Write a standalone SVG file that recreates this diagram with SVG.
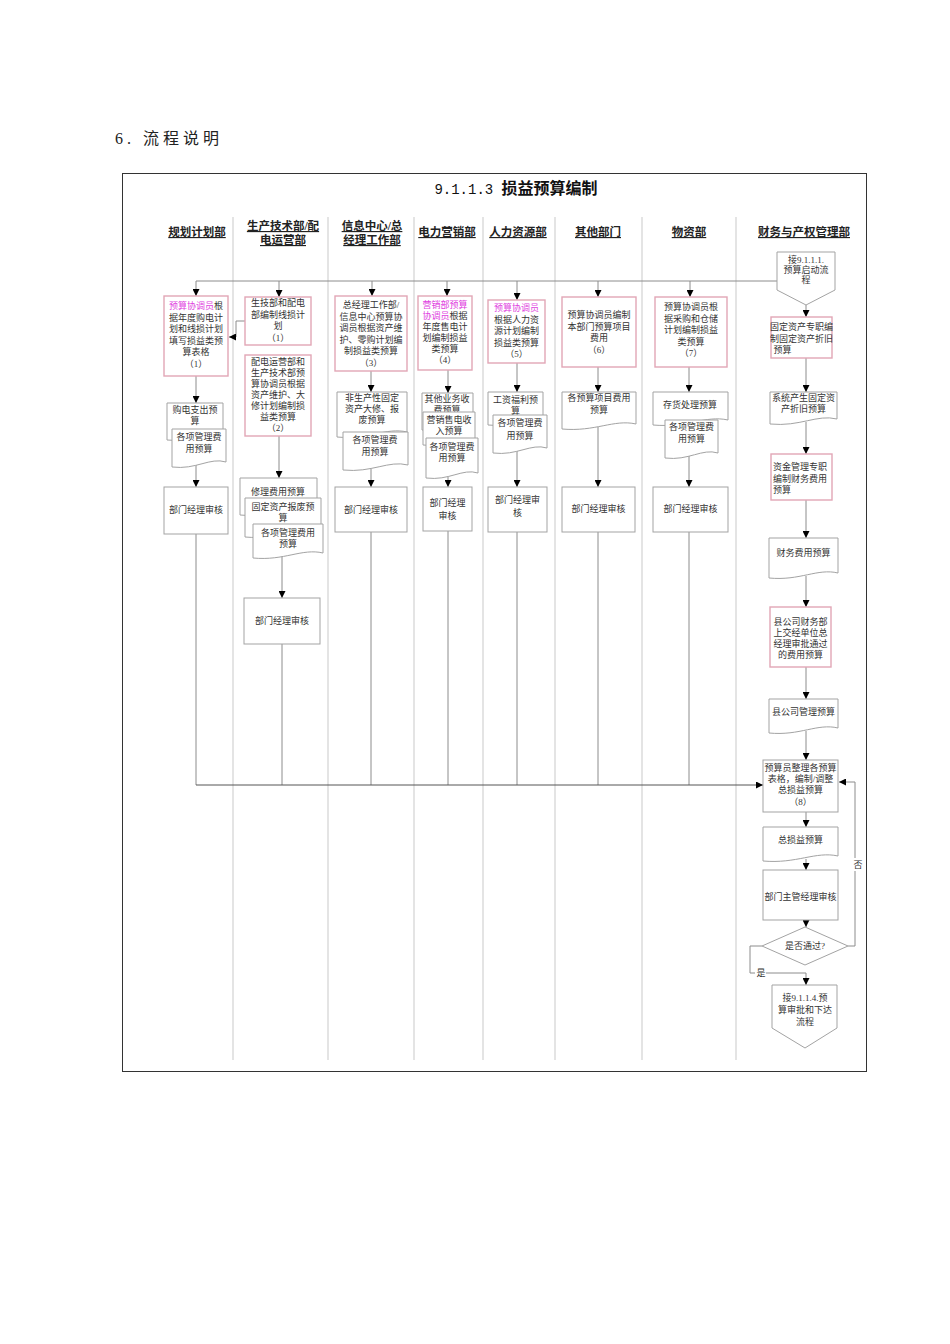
<svg xmlns="http://www.w3.org/2000/svg" width="950" height="1344" viewBox="0 0 950 1344">
<style>
.sep{stroke:#c9c9c9;stroke-width:1;fill:none}
.ln{stroke:#8c8c8c;stroke-width:1;fill:none}
.lnd{stroke:#555;stroke-width:1;fill:none}
.pk{fill:#fff;stroke:#e2a6b6;stroke-width:1.4}
.gr{fill:#fff;stroke:#a3a3a3;stroke-width:1}
.t{font-family:"Liberation Serif","Noto Sans CJK SC",serif;font-size:9px;fill:#333;text-anchor:middle}
.m{fill:#e040e0}
.h{font-family:"Liberation Serif","Noto Sans CJK SC",serif;font-size:11.5px;font-weight:bold;fill:#222;text-anchor:middle;text-decoration:underline}
</style>
<defs>
<marker id="ah" viewBox="0 0 10 10" refX="10" refY="5" markerWidth="7" markerHeight="7" orient="auto" markerUnits="userSpaceOnUse"><path d="M0,0 L10,5 L0,10 z" fill="#000"/></marker>
</defs>
<rect width="950" height="1344" fill="#fff"/>
<text x="115" y="144" font-family="Liberation Serif,Noto Sans CJK SC,serif" font-size="16" fill="#222" letter-spacing="4">6. 流程说明</text>
<rect x="122.5" y="173.5" width="744" height="898" fill="none" stroke="#333" stroke-width="1"/>
<text x="516" y="194" text-anchor="middle" fill="#111"><tspan font-family="Liberation Mono,monospace" font-size="14">9.1.1.3 </tspan><tspan font-family="Noto Sans CJK SC,sans-serif" font-size="16" font-weight="bold">损益预算编制</tspan></text>
<g id="lanes">
<line class="sep" x1="233" y1="217" x2="233" y2="1060"/>
<line class="sep" x1="328" y1="217" x2="328" y2="1060"/>
<line class="sep" x1="414" y1="217" x2="414" y2="1060"/>
<line class="sep" x1="483" y1="217" x2="483" y2="1060"/>
<line class="sep" x1="555" y1="217" x2="555" y2="1060"/>
<line class="sep" x1="642" y1="217" x2="642" y2="1060"/>
<line class="sep" x1="736" y1="217" x2="736" y2="1060"/>
<text class="h" x="197" y="236">规划计划部</text>
<text class="h" x="283" y="230">生产技术部/配</text>
<text class="h" x="283" y="244">电运营部</text>
<text class="h" x="372" y="230">信息中心/总</text>
<text class="h" x="372" y="244">经理工作部</text>
<text class="h" x="447" y="236">电力营销部</text>
<text class="h" x="518" y="236">人力资源部</text>
<text class="h" x="598" y="236">其他部门</text>
<text class="h" x="689" y="236">物资部</text>
<text class="h" x="804" y="236">财务与产权管理部</text>
</g>
<g id="connectors">
<polyline class="ln" points="777,281 196,281"/>
<line class="ln" x1="196" y1="281" x2="196" y2="296" marker-end="url(#ah)"/>
<line class="ln" x1="279" y1="281" x2="279" y2="297" marker-end="url(#ah)"/>
<line class="ln" x1="372" y1="281" x2="372" y2="296" marker-end="url(#ah)"/>
<line class="ln" x1="447" y1="281" x2="447" y2="296" marker-end="url(#ah)"/>
<line class="ln" x1="517" y1="281" x2="517" y2="300" marker-end="url(#ah)"/>
<line class="ln" x1="598" y1="281" x2="598" y2="297" marker-end="url(#ah)"/>
<line class="ln" x1="690" y1="281" x2="690" y2="297" marker-end="url(#ah)"/>
<polyline class="ln" points="245,321 236,321 236,337 229,337" marker-end="url(#ah)"/>
<line class="ln" x1="196" y1="376" x2="196" y2="403" marker-end="url(#ah)"/>
<line class="ln" x1="196" y1="465" x2="196" y2="487" marker-end="url(#ah)"/>
<polyline class="ln" points="279,436 279,478" marker-end="url(#ah)"/>
<line class="ln" x1="282" y1="556" x2="282" y2="598" marker-end="url(#ah)"/>
<line class="ln" x1="371" y1="371" x2="371" y2="392" marker-end="url(#ah)"/>
<line class="ln" x1="371" y1="468" x2="371" y2="487" marker-end="url(#ah)"/>
<line class="ln" x1="448" y1="370" x2="448" y2="393" marker-end="url(#ah)"/>
<line class="ln" x1="448" y1="476" x2="448" y2="487" marker-end="url(#ah)"/>
<line class="ln" x1="517" y1="363" x2="517" y2="392" marker-end="url(#ah)"/>
<line class="ln" x1="517" y1="451" x2="517" y2="487" marker-end="url(#ah)"/>
<line class="ln" x1="598" y1="367" x2="598" y2="392" marker-end="url(#ah)"/>
<line class="ln" x1="598" y1="427" x2="598" y2="487" marker-end="url(#ah)"/>
<line class="ln" x1="689" y1="367" x2="689" y2="392" marker-end="url(#ah)"/>
<line class="ln" x1="689" y1="456" x2="689" y2="487" marker-end="url(#ah)"/>
<line class="ln" x1="196" y1="534" x2="196" y2="785"/>
<line class="ln" x1="282" y1="644" x2="282" y2="785"/>
<line class="ln" x1="371" y1="532" x2="371" y2="785"/>
<line class="ln" x1="448" y1="531" x2="448" y2="785"/>
<line class="ln" x1="517" y1="532" x2="517" y2="785"/>
<line class="ln" x1="598" y1="532" x2="598" y2="785"/>
<line class="ln" x1="689" y1="532" x2="689" y2="785"/>
<line class="lnd" x1="196" y1="785" x2="763" y2="785" marker-end="url(#ah)"/>
<line class="ln" x1="806" y1="305" x2="806" y2="317" marker-end="url(#ah)"/>
<line class="ln" x1="806" y1="358" x2="806" y2="392" marker-end="url(#ah)"/>
<line class="ln" x1="806" y1="422" x2="806" y2="454" marker-end="url(#ah)"/>
<line class="ln" x1="806" y1="500" x2="806" y2="538" marker-end="url(#ah)"/>
<line class="ln" x1="806" y1="576" x2="806" y2="607" marker-end="url(#ah)"/>
<line class="ln" x1="806" y1="667" x2="806" y2="699" marker-end="url(#ah)"/>
<line class="ln" x1="806" y1="731" x2="806" y2="760" marker-end="url(#ah)"/>
<line class="ln" x1="806" y1="812" x2="806" y2="827" marker-end="url(#ah)"/>
<line class="ln" x1="806" y1="859" x2="806" y2="870" marker-end="url(#ah)"/>
<line class="ln" x1="806" y1="920" x2="806" y2="927" marker-end="url(#ah)"/>
<polyline class="ln" points="848,946 855,946 855,782 839,782" marker-end="url(#ah)"/>
<polyline class="ln" points="762,946 750,946 750,973 806,973 806,985" marker-end="url(#ah)"/>
<rect x="853" y="858" width="10" height="13" fill="#fff"/>
<text class="t" x="858" y="868">否</text>
<rect x="755" y="967" width="11" height="11" fill="#fff"/>
<text class="t" x="761" y="976">是</text>
</g>
<g id="n-r1">
<rect class="pk" x="164" y="296" width="64" height="80"/>
<text class="t" x="196" y="309"><tspan class="m">预算协调员</tspan>根</text>
<text class="t" x="196" y="320.5">据年度购电计</text>
<text class="t" x="196" y="332">划和线损计划</text>
<text class="t" x="196" y="343.5">填写损益类预</text>
<text class="t" x="196" y="355">算表格</text>
<text class="t" x="196" y="366.5">（1）</text>
</g>
<g id="n-d1">
<path class="gr" d="M167,403 H223 V435 C206.2,430 192.2,443 167,440 Z"/>
<text class="t" x="195" y="413">购电支出预</text>
<text class="t" x="195" y="424">算</text>
<path class="gr" d="M172,429 H226 V462 C209.8,457 196.3,470 172,467 Z"/>
<text class="t" x="199" y="440">各项管理费</text>
<text class="t" x="199" y="452">用预算</text>
</g>
<g id="n-v1">
<rect class="gr" x="164" y="487" width="64" height="47"/>
<text class="t" x="196" y="513">部门经理审核</text>
</g>
<g id="n-r2a">
<rect class="pk" x="245" y="297" width="66" height="48"/>
<text class="t" x="278" y="306">生技部和配电</text>
<text class="t" x="278" y="317.5">部编制线损计</text>
<text class="t" x="278" y="329">划</text>
<text class="t" x="278" y="340.5">（1）</text>
</g>
<g id="n-r2b">
<rect class="pk" x="245" y="355" width="66" height="81"/>
<text class="t" x="278" y="365">配电运营部和</text>
<text class="t" x="278" y="376">生产技术部预</text>
<text class="t" x="278" y="387">算协调员根据</text>
<text class="t" x="278" y="398">资产维护、大</text>
<text class="t" x="278" y="409">修计划编制损</text>
<text class="t" x="278" y="420">益类预算</text>
<text class="t" x="278" y="431">（2）</text>
</g>
<g id="n-d2">
<path class="gr" d="M240,478 H317 V510 C293.9,505 274.65,518 240,515 Z"/>
<text class="t" x="278" y="495">修理费用预算</text>
<path class="gr" d="M245,498 H321 V532 C298.2,527 279.2,540 245,537 Z"/>
<text class="t" x="283" y="510">固定资产报废预</text>
<text class="t" x="283" y="521">算</text>
<path class="gr" d="M253,524 H323 V553 C302,548 284.5,561 253,558 Z"/>
<text class="t" x="288" y="536">各项管理费用</text>
<text class="t" x="288" y="547">预算</text>
</g>
<g id="n-v2">
<rect class="gr" x="244" y="598" width="76" height="46"/>
<text class="t" x="282" y="624">部门经理审核</text>
</g>
<g id="n-r3">
<rect class="pk" x="335" y="296" width="72" height="75"/>
<text class="t" x="371" y="308">总经理工作部/</text>
<text class="t" x="371" y="319.5">信息中心预算协</text>
<text class="t" x="371" y="331">调员根据资产维</text>
<text class="t" x="371" y="342.5">护、零购计划编</text>
<text class="t" x="371" y="354">制损益类预算</text>
<text class="t" x="371" y="365.5">（3）</text>
</g>
<g id="n-d3">
<path class="gr" d="M337,392 H407 V432 C386,427 368.5,440 337,437 Z"/>
<text class="t" x="372" y="401">非生产性固定</text>
<text class="t" x="372" y="412">资产大修、报</text>
<text class="t" x="372" y="423">废预算</text>
<path class="gr" d="M343,432 H408 V465 C388.5,460 372.25,473 343,470 Z"/>
<text class="t" x="375" y="443">各项管理费</text>
<text class="t" x="375" y="455">用预算</text>
</g>
<g id="n-v3">
<rect class="gr" x="335" y="487" width="72" height="45"/>
<text class="t" x="371" y="513">部门经理审核</text>
</g>
<g id="n-r4">
<rect class="pk" x="418" y="296" width="54" height="74"/>
<text class="t" x="445" y="308"><tspan class="m">营销部预算</tspan></text>
<text class="t" x="445" y="319"><tspan class="m">协调员</tspan>根据</text>
<text class="t" x="445" y="330">年度售电计</text>
<text class="t" x="445" y="341">划编制损益</text>
<text class="t" x="445" y="352">类预算</text>
<text class="t" x="445" y="363">（4）</text>
</g>
<g id="n-d4">
<path class="gr" d="M422,393 H473 V425 C457.7,420 444.95,433 422,430 Z"/>
<text class="t" x="447" y="402">其他业务收</text>
<text class="t" x="447" y="413">费预算</text>
<path class="gr" d="M423,412 H475 V440 C459.4,435 446.4,448 423,445 Z"/>
<text class="t" x="449" y="423">营销售电收</text>
<text class="t" x="449" y="434">入预算</text>
<path class="gr" d="M426,438 H478 V473 C462.4,468 449.4,481 426,478 Z"/>
<text class="t" x="452" y="450">各项管理费</text>
<text class="t" x="452" y="461">用预算</text>
</g>
<g id="n-v4">
<rect class="gr" x="423" y="487" width="49" height="44"/>
<text class="t" x="447.5" y="506">部门经理</text>
<text class="t" x="447.5" y="519">审核</text>
</g>
<g id="n-r5">
<rect class="pk" x="488" y="300" width="57" height="63"/>
<text class="t" x="516.5" y="311"><tspan class="m">预算协调员</tspan></text>
<text class="t" x="516.5" y="322.5">根据人力资</text>
<text class="t" x="516.5" y="334">源计划编制</text>
<text class="t" x="516.5" y="345.5">损益类预算</text>
<text class="t" x="516.5" y="357">（5）</text>
</g>
<g id="n-d5">
<path class="gr" d="M488,392 H543 V420 C526.5,415 512.75,428 488,425 Z"/>
<text class="t" x="515.5" y="403">工资福利预</text>
<text class="t" x="515.5" y="414">算</text>
<path class="gr" d="M493,415 H547 V448 C530.8,443 517.3,456 493,453 Z"/>
<text class="t" x="520" y="426">各项管理费</text>
<text class="t" x="520" y="439">用预算</text>
</g>
<g id="n-v5">
<rect class="gr" x="488" y="487" width="59" height="45"/>
<text class="t" x="517.5" y="503">部门经理审</text>
<text class="t" x="517.5" y="516">核</text>
</g>
<g id="n-r6">
<rect class="pk" x="562" y="297" width="74" height="70"/>
<text class="t" x="599" y="318">预算协调员编制</text>
<text class="t" x="599" y="329.5">本部门预算项目</text>
<text class="t" x="599" y="341">费用</text>
<text class="t" x="599" y="352.5">（6）</text>
</g>
<g id="n-d6">
<path class="gr" d="M562,392 H636 V424 C613.8,419 595.3,432 562,429 Z"/>
<text class="t" x="599" y="401">各预算项目费用</text>
<text class="t" x="599" y="413">预算</text>
</g>
<g id="n-v6">
<rect class="gr" x="562" y="487" width="73" height="45"/>
<text class="t" x="598.5" y="512">部门经理审核</text>
</g>
<g id="n-r7">
<rect class="pk" x="655" y="297" width="72" height="70"/>
<text class="t" x="691" y="310">预算协调员根</text>
<text class="t" x="691" y="321.5">据采购和仓储</text>
<text class="t" x="691" y="333">计划编制损益</text>
<text class="t" x="691" y="344.5">类预算</text>
<text class="t" x="691" y="356">（7）</text>
</g>
<g id="n-d7">
<path class="gr" d="M653,392 H728 V420 C705.5,415 686.75,428 653,425 Z"/>
<text class="t" x="690" y="408">存货处理预算</text>
<path class="gr" d="M665,420 H718 V453 C702.1,448 688.85,461 665,458 Z"/>
<text class="t" x="691.5" y="430">各项管理费</text>
<text class="t" x="691.5" y="442">用预算</text>
</g>
<g id="n-v7">
<rect class="gr" x="653" y="487" width="75" height="45"/>
<text class="t" x="690.5" y="512">部门经理审核</text>
</g>
<g id="n-start">
<polygon class="gr" points="777,252 835,252 835,290 806,305 777,290"/>
<text class="t" x="806" y="263">接9.1.1.1.</text>
<text class="t" x="806" y="273">预算启动流</text>
<text class="t" x="806" y="283">程</text>
</g>
<g id="n-f1">
<rect class="pk" x="771" y="317" width="61" height="41"/>
<text class="t" x="801.5" y="330">固定资产专职编</text>
<text class="t" x="801.5" y="341.5">制固定资产折旧</text>
<text class="t" x="801.5" y="353" style="text-anchor:start" dx="-28">预算</text>
</g>
<g id="n-df1">
<path class="gr" d="M770,392 H837 V419 C816.9,414 800.15,427 770,424 Z"/>
<text class="t" x="803.5" y="401">系统产生固定资</text>
<text class="t" x="803.5" y="412">产折旧预算</text>
</g>
<g id="n-f2">
<rect class="pk" x="771" y="454" width="61" height="46"/>
<text class="t" x="773" y="470" style="text-anchor:start">资金管理专职</text>
<text class="t" x="773" y="481.5" style="text-anchor:start">编制财务费用</text>
<text class="t" x="773" y="493" style="text-anchor:start">预算</text>
</g>
<g id="n-df2">
<path class="gr" d="M769,538 H838 V573 C817.3,568 800.05,581 769,578 Z"/>
<text class="t" x="803.5" y="556">财务费用预算</text>
</g>
<g id="n-f3">
<rect class="pk" x="770" y="607" width="61" height="60"/>
<text class="t" x="800.5" y="625">县公司财务部</text>
<text class="t" x="800.5" y="636">上交经单位总</text>
<text class="t" x="800.5" y="647">经理审批通过</text>
<text class="t" x="800.5" y="658">的费用预算</text>
</g>
<g id="n-df3">
<path class="gr" d="M769,699 H838 V728 C817.3,723 800.05,736 769,733 Z"/>
<text class="t" x="803.5" y="715">县公司管理预算</text>
</g>
<g id="n-f4">
<rect class="gr" x="763" y="760" width="75" height="52"/>
<text class="t" x="800.5" y="771">预算员整理各预算</text>
<text class="t" x="800.5" y="782">表格，编制/调整</text>
<text class="t" x="800.5" y="793">总损益预算</text>
<text class="t" x="800.5" y="805">（8）</text>
</g>
<g id="n-df4">
<path class="gr" d="M763,827 H838 V856 C815.5,851 796.75,864 763,861 Z"/>
<text class="t" x="800.5" y="843">总损益预算</text>
</g>
<g id="n-f5">
<rect class="gr" x="763" y="870" width="75" height="50"/>
<text class="t" x="800.5" y="900">部门主管经理审核</text>
</g>
<g id="n-dec">
<polygon class="gr" points="805,927 848,946 805,965 762,946"/>
<text class="t" x="805" y="949">是否通过?</text>
</g>
<g id="n-end">
<polygon class="gr" points="772,985 837,985 837,1028 805,1048 772,1028"/>
<text class="t" x="805" y="1001">接9.1.1.4.预</text>
<text class="t" x="805" y="1013">算审批和下达</text>
<text class="t" x="805" y="1025">流程</text>
</g>
</svg>
